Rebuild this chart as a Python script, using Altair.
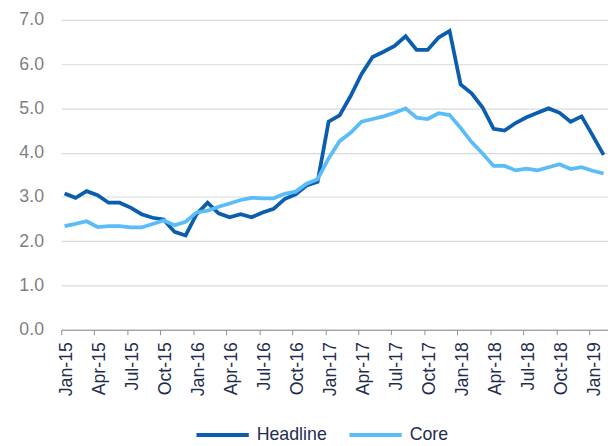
import altair as alt
import pandas as pd

months = [f"{m}-{y}" for y in ["15", "16", "17", "18"] for m in
          ["Jan", "Feb", "Mar", "Apr", "May", "Jun", "Jul", "Aug", "Sep", "Oct", "Nov", "Dec"]] + ["Jan-19", "Feb-19"]

headline = [3.08, 2.98, 3.13, 3.04, 2.87, 2.87, 2.76, 2.61, 2.53, 2.49, 2.21, 2.13,
            2.61, 2.87, 2.63, 2.54, 2.61, 2.54, 2.65, 2.73, 2.95, 3.06, 3.26, 3.34,
            4.70, 4.84, 5.28, 5.78, 6.16, 6.28, 6.41, 6.63, 6.32, 6.32, 6.60, 6.75,
            5.54, 5.34, 5.02, 4.54, 4.50, 4.67, 4.80, 4.90, 5.00, 4.90, 4.70, 4.82,
            4.39, 3.95]

core = [2.34, 2.39, 2.45, 2.32, 2.34, 2.34, 2.31, 2.31, 2.39, 2.47, 2.36, 2.44,
        2.65, 2.69, 2.78, 2.85, 2.93, 2.98, 2.97, 2.97, 3.07, 3.12, 3.30, 3.40,
        3.87, 4.26, 4.45, 4.70, 4.76, 4.82, 4.90, 5.00, 4.79, 4.76, 4.89, 4.85,
        4.56, 4.24, 3.98, 3.70, 3.70, 3.60, 3.64, 3.60, 3.67, 3.74, 3.63, 3.67,
        3.59, 3.53]

series_names = ["Headline", "Core"]
series_colors = ["#0B5DAE", "#5BBDF7"]

quarter_labels = months[::3]
y_ticks = [0, 1, 2, 3, 4, 5, 6, 7]

rows = []
for name, vals in zip(series_names, [headline, core]):
    for i, v in enumerate(vals):
        rows.append({"idx": i, "month": months[i], "value": v, "series": name})
df = pd.DataFrame(rows)

shift = 0.3
tick_vals = [i * 3 - shift for i in range(len(quarter_labels))]
label_arr = "[" + ",".join(f"'{q}'" for q in quarter_labels) + "]"
label_expr = f"{label_arr}[round((datum.value + {shift}) / 3)]"

font = "Liberation Sans"

chart = alt.Chart(df).mark_line(strokeWidth=3.8, strokeJoin="miter").encode(
    x=alt.X("idx:Q",
            scale=alt.Scale(domain=[-shift, 49.4], nice=False, zero=False),
            axis=alt.Axis(values=tick_vals, labelExpr=label_expr, title=None,
                          grid=False, labelAngle=-90, labelOffset=5.5,
                          labelColor="#1F2D4F", labelFontSize=18, labelFont=font,
                          labelPadding=7, tickSize=5, tickColor="#8C8C8C",
                          domainColor="#8C8C8C", tickWidth=1, domainWidth=1)),
    y=alt.Y("value:Q",
            scale=alt.Scale(domain=[0, 7], nice=False),
            axis=alt.Axis(values=y_ticks, format=".1f", title=None, grid=True,
                          gridColor="#D9D9D9", gridWidth=1.2, domain=False,
                          ticks=False, tickSize=0, labelPadding=18,
                          labelColor="#7F7F7F", labelFontSize=18, labelFont=font)),
    color=alt.Color("series:N",
                    scale=alt.Scale(domain=series_names, range=series_colors),
                    legend=alt.Legend(title=None, orient="none", direction="horizontal",
                                      legendX=135, legendY=392,
                                      symbolType="stroke", symbolSize=2809,
                                      symbolStrokeWidth=4, labelFontSize=18,
                                      labelFont=font, labelColor="#1F2D4F",
                                      columnPadding=14, labelOffset=6)),
    order="idx:Q",
).properties(
    width=554, height=314,
    padding={"left": 54, "top": 9, "right": 0, "bottom": 130},
    autosize=alt.AutoSizeParams(type="none"),
).configure_view(stroke=None)

chart.save("out.html", embed_options={"renderer": "svg", "actions": False})
